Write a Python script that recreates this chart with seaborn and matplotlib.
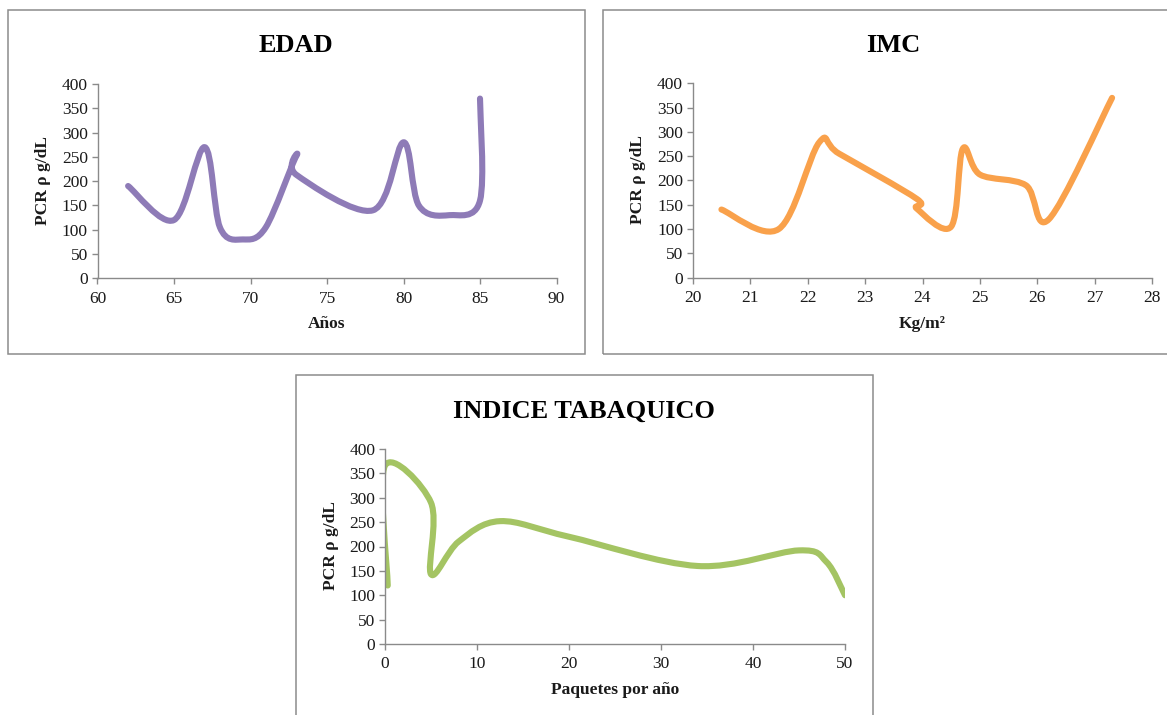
import numpy as np
import matplotlib
matplotlib.use("Agg")
import matplotlib.pyplot as plt
import seaborn as sns
from matplotlib.path import Path
from matplotlib.patches import PathPatch, Rectangle

# ---------------- data (knots of Excel smoothed lines) ----------------
edad_x = [62, 65, 67, 68, 69.5, 71, 73, 73, 78, 80, 81, 83, 85, 85]
edad_y = [190, 120, 270, 105, 80, 105, 252, 213, 140, 280, 150, 130, 160, 370]

imc_x = [20.5, 21.5, 22.2, 22.55, 23.9, 23.9, 24.5, 24.7, 25.0, 25.8, 26.2, 27.3]
imc_y = [140, 100, 278, 255, 162, 142, 105, 265, 212, 190, 120, 370]

tab_x = [0.3, 0, 5, 5, 8, 12.5, 20, 34, 45, 48, 50]
tab_y = [120, 366, 290, 143, 210, 252, 220, 160, 192, 168, 100]

titles = ["EDAD", "IMC", "INDICE TABAQUICO"]
xlabels = ["Años", "Kg/m²", "Paquetes por año"]
ylabel = "PCR ρ g/dL"
edad_ticks = [60, 65, 70, 75, 80, 85, 90]
imc_ticks = [20, 21, 22, 23, 24, 25, 26, 27, 28]
tab_ticks = [0, 10, 20, 30, 40, 50]
y_ticks = [0, 50, 100, 150, 200, 250, 300, 350, 400]

colors = ["#8E7BB7", "#F9A14B", "#A4C463"]
axis_grey = "#8A8A8A"

sns.set_theme(style="white")
plt.rcParams["font.family"] = ["Liberation Serif", "DejaVu Serif"]

W, H = 1167, 715
fig = plt.figure(figsize=(W / 100, H / 100), dpi=100)


def fx(px):
    return px / W


def fy(py):
    return 1 - py / H


def smooth_path(xs, ys):
    P = np.column_stack([xs, ys]).astype(float)
    n = len(P)
    verts = [P[0]]
    codes = [Path.MOVETO]
    for i in range(n - 1):
        p_prev = P[i - 1] if i > 0 else P[i]
        p_next2 = P[i + 2] if i + 2 < n else P[i + 1]
        c1 = P[i] + (P[i + 1] - p_prev) / 6.0
        c2 = P[i + 1] - (p_next2 - P[i]) / 6.0
        verts += [c1, c2, P[i + 1]]
        codes += [Path.CURVE4] * 3
    return Path(verts, codes)


# panel borders (pixel coords: left, top, right, bottom)
panels = [(8, 10, 585, 354), (603, 10, 1175, 354), (296, 375, 873, 725)]
for (l, t, r, b) in panels:
    fig.add_artist(Rectangle((fx(l), fy(b)), fx(r - l), (b - t) / H,
                             transform=fig.transFigure, fill=False,
                             edgecolor="#8C8C8C", lw=1.1))

# axes placements in pixels: left, top(400), right, bottom(0)
axes_px = [(97.5, 84, 556.5, 278.3), (692.7, 83.3, 1152.3, 277.5), (385, 449, 845, 644)]
series = [(edad_x, edad_y, (60, 90), edad_ticks),
          (imc_x, imc_y, (20, 28), imc_ticks),
          (tab_x, tab_y, (0, 50), tab_ticks)]
title_pos = [(296, 46), (893, 46), (584, 411)]
xlabel_pos = [(327, 324), (922, 324), (615, 690)]
ylabel_pos = [(43, 181), (638, 180), (331, 546)]

for k in range(3):
    l, t, r, b = axes_px[k]
    ax = fig.add_axes([fx(l), fy(b), (r - l) / W, (b - t) / H])
    xs, ys, xlim, xt = series[k]
    ax.set_xlim(*xlim)
    ax.set_ylim(0, 400)
    ax.set_xticks(xt)
    ax.set_yticks(y_ticks)
    ax.set_facecolor("none")
    patch = PathPatch(smooth_path(xs, ys), fill=False, edgecolor=colors[k],
                      lw=4.4, capstyle="round", joinstyle="round",
                      transform=ax.transData)
    ax.add_patch(patch)
    sns.despine(ax=ax)
    for s in ["left", "bottom"]:
        ax.spines[s].set_color(axis_grey)
        ax.spines[s].set_linewidth(1.0)
    ax.tick_params(axis="both", direction="out", length=4, width=1.0,
                   color=axis_grey, labelsize=12.5, labelcolor="#1a1a1a",
                   left=True, bottom=True)
    ax.tick_params(axis="x", pad=5)
    ax.tick_params(axis="y", pad=3)
    ax.grid(False)

    tx, ty = title_pos[k]
    fig.text(fx(tx), fy(ty), titles[k], ha="center", va="center",
             fontsize=19, fontweight="bold", color="black")
    lx, ly = xlabel_pos[k]
    fig.text(fx(lx), fy(ly), xlabels[k], ha="center", va="center",
             fontsize=12.5, fontweight="bold", color="#1a1a1a")
    yx, yy = ylabel_pos[k]
    fig.text(fx(yx), fy(yy), ylabel, ha="center", va="center", rotation=90,
             fontsize=12.5, fontweight="bold", color="#1a1a1a")

fig.savefig("out.png", dpi=100, facecolor="white")
